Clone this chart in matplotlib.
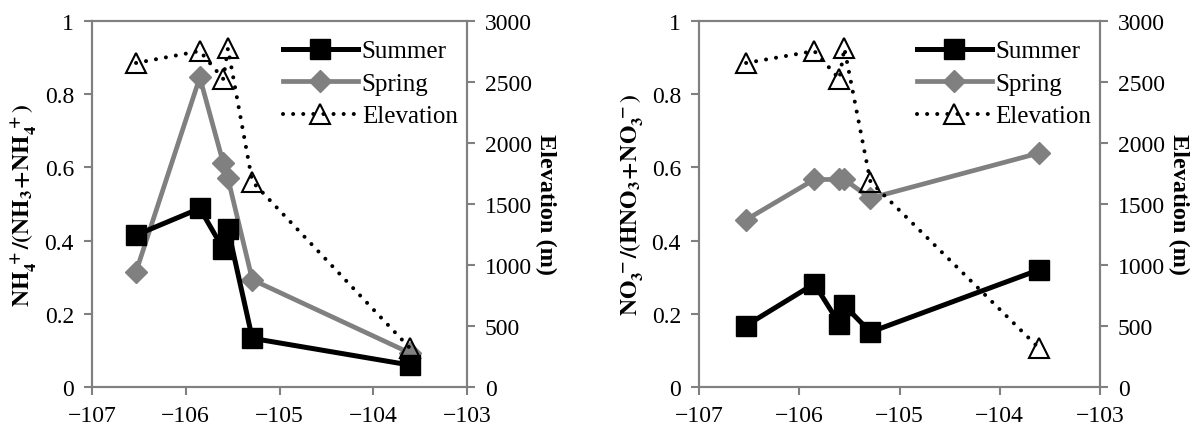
import numpy as np
import matplotlib
matplotlib.use('Agg')
import matplotlib.pyplot as plt
from matplotlib.ticker import FuncFormatter

plt.rcParams['font.family'] = ['Liberation Serif', 'DejaVu Serif']
plt.rcParams['mathtext.fontset'] = 'stix'
plt.rcParams['font.size'] = 17

#==============================================================================
# Data
#==============================================================================
lon = [-106.53, -105.85, -105.60, -105.55, -105.29, -103.61]
elevation = [2656, 2754, 2525, 2776, 1683, 320]

nh4_summer = [0.415, 0.488, 0.377, 0.432, 0.133, 0.060]
nh4_spring = [0.315, 0.846, 0.612, 0.570, 0.293, 0.093]

no3_summer = [0.168, 0.282, 0.173, 0.223, 0.150, 0.320]
no3_spring = [0.457, 0.567, 0.567, 0.567, 0.516, 0.639]

GREY = '#808080'

def style_axes(ax):
    for s in ax.spines.values():
        s.set_color(GREY)
        s.set_linewidth(1.5)
    ax.tick_params(direction='out', length=6, width=1.5, color=GREY, labelsize=17,
                   pad=7)

def fmt(v, pos):
    return ('%g' % v)

def draw_panel(ax, summer, spring, ylabel):
    ax.plot(lon, summer, color='black', linewidth=3.6, marker='s', markersize=14,
            label='Summer', zorder=3)
    ax.plot(lon, spring, color=GREY, linewidth=3.4, marker='D', markersize=11,
            label='Spring', zorder=2)
    ax.set_xlim(-107, -103)
    ax.set_ylim(0, 1)
    ax.set_xticks(np.arange(-107, -102, 1))
    ax.set_yticks(np.arange(0, 1.01, 0.2))
    ax.yaxis.set_major_formatter(FuncFormatter(fmt))
    ax.set_ylabel(ylabel, fontsize=17, labelpad=4)
    style_axes(ax)

    ax2 = ax.twinx()
    ax2.plot(lon, elevation, color='black', linewidth=2.9, linestyle=(0, (0.01, 2.5)),
             dash_capstyle='round', marker='^', markersize=14, markerfacecolor='none',
             markeredgecolor='black', markeredgewidth=1.5, label='Elevation')
    ax2.set_ylim(0, 3000)
    ax2.set_yticks(np.arange(0, 3001, 500))
    ax2.set_ylabel('Elevation (m)', fontweight='bold', fontsize=17.5, rotation=270,
                   labelpad=17)
    style_axes(ax2)

    h1, l1 = ax.get_legend_handles_labels()
    h2, l2 = ax2.get_legend_handles_labels()
    ax2.legend(h1 + h2, l1 + l2, loc='upper right', bbox_to_anchor=(1.035, 1.01),
               frameon=False, numpoints=1, handlelength=3.0, handletextpad=0.15,
               labelspacing=0.4, fontsize=18)
    return ax2

fig = plt.figure(figsize=(11.98, 4.27), dpi=100)
axL = fig.add_axes([92 / 1198, 39 / 427, 375 / 1198, 366 / 427])
axR = fig.add_axes([699 / 1198, 39 / 427, 401 / 1198, 366 / 427])

draw_panel(axL, nh4_summer, nh4_spring,
           r'$\mathbf{NH_4^{\ +}/(NH_3\!+\!NH_4^{\ +})}$')
draw_panel(axR, no3_summer, no3_spring,
           r'$\mathbf{NO_3^{\ -}/(HNO_3\!+\!NO_3^{\ -})}$')

fig.savefig('out.png', dpi=100)
